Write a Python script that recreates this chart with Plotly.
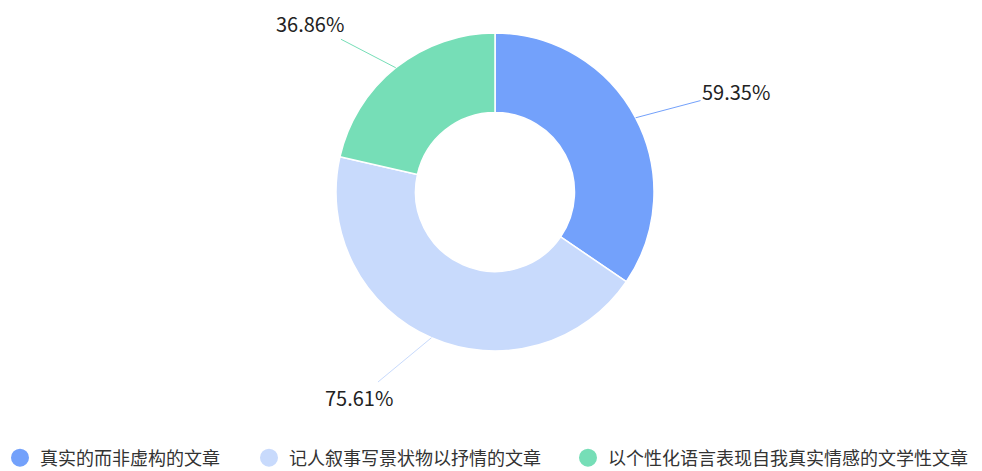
import math
import plotly.graph_objects as go

categories = ["真实的而非虚构的文章", "记人叙事写景状物以抒情的文章", "以个性化语言表现自我真实情感的文学性文章"]
values = [59.35, 75.61, 36.86]
value_labels = ["59.35%", "75.61%", "36.86%"]
colors = ["#73a1fb", "#c8dafc", "#76deb7"]
legend_widths = [204, 274, 360]

W, H = 982, 471
CX, CY, R = 495, 192, 159  # pie center / radius in px (layout constants)
FONT = "Noto Sans CJK SC, Microsoft YaHei, sans-serif"

dom_x = [(CX - R) / W, (CX + R) / W]
dom_y = [1 - (CY + R) / H, 1 - (CY - R) / H]

fig = go.Figure()
fig.add_trace(go.Pie(
    labels=categories, values=values, sort=False, direction="clockwise", rotation=0,
    hole=0.5, textinfo="none", hoverinfo="label+value",
    marker=dict(colors=colors, line=dict(color="white", width=1.5)),
    domain=dict(x=dom_x, y=dom_y), showlegend=False,
))

for name, col, lw in zip(categories, colors, legend_widths):
    fig.add_trace(go.Scatter(
        x=[None], y=[None], mode="markers", name=name,
        marker=dict(color=col, size=16, symbol="circle", line=dict(color=col, width=2)),
        legendwidth=lw, hoverinfo="skip",
    ))

# outside labels with leader lines, positioned at slice mid-angles
total = sum(values)
cum = 0.0
annotations = []
K, HOFF = 57, 50
for v, lab, col in zip(values, value_labels, colors):
    mid = (cum + v / 2) / total * 2 * math.pi
    cum += v
    s, c = math.sin(mid), math.cos(mid)
    px = CX + R * s
    py = CY - R * c
    side = 1 if s >= 0 else -1
    ax = K * s + HOFF * side
    ay = -K * c + (8 if c < 0 else 0)
    annotations.append(dict(
        x=px / W, y=1 - py / H, xref="paper", yref="paper",
        text=lab, showarrow=True, arrowhead=0, arrowwidth=1, arrowcolor=col,
        ax=ax, ay=ay, standoff=0,
        font=dict(family=FONT, size=20, color="#222"),
    ))

fig.update_layout(
    width=W, height=H, margin=dict(l=0, r=0, t=0, b=0, autoexpand=False),
    paper_bgcolor="white", plot_bgcolor="white",
    xaxis=dict(visible=False), yaxis=dict(visible=False),
    annotations=annotations,
    legend=dict(orientation="h", x=0, xanchor="left", y=(H - 458) / H, yanchor="middle",
                font=dict(family=FONT, size=18, color="#333"), traceorder="normal"),
    font=dict(family=FONT),
)

fig.write_html("out.html")
